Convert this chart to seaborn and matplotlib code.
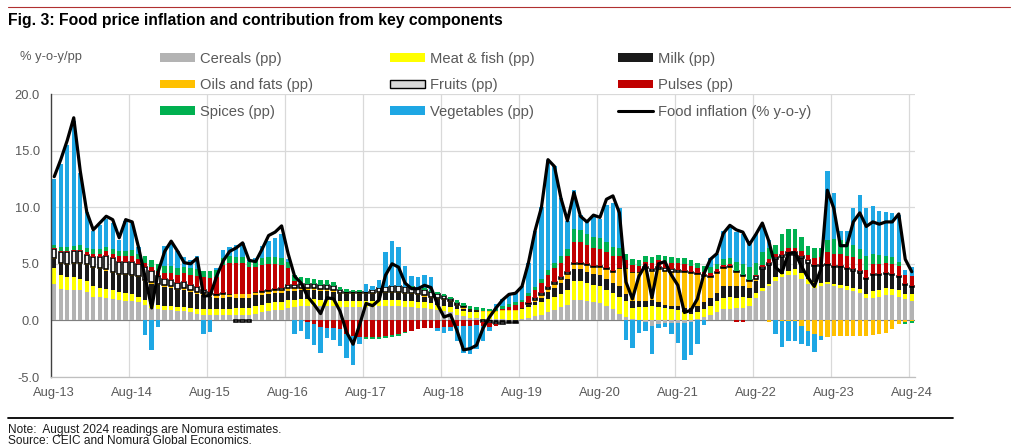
import numpy as np
import pandas as pd
import matplotlib
matplotlib.use("Agg")
import matplotlib.pyplot as plt
import seaborn as sns
from matplotlib.patches import Patch
from matplotlib.lines import Line2D

sns.set_style("white")
plt.rcParams['font.family'] = ['Liberation Sans', 'DejaVu Sans']

# ---------------- data (Aug-13 ... Aug-24, monthly) ----------------
months = pd.date_range('2013-08-01', '2024-08-01', freq='MS')
tick_labels = ['Aug-13', 'Aug-14', 'Aug-15', 'Aug-16', 'Aug-17', 'Aug-18',
               'Aug-19', 'Aug-20', 'Aug-21', 'Aug-22', 'Aug-23', 'Aug-24']

cereals = [3.2, 2.8, 2.7, 2.7, 2.7, 2.5, 2.1, 2.1, 2.0, 1.9, 1.8, 1.7,
           1.7, 1.6, 1.4, 1.1, 1.0, 0.9, 0.9, 0.8, 0.8, 0.7, 0.6, 0.5,
           0.5, 0.5, 0.5, 0.5, 0.5, 0.5, 0.5, 0.6, 0.7, 0.8, 0.9, 0.9,
           1.1, 1.2, 1.3, 1.3, 1.3, 1.3, 1.3, 1.3, 1.2, 1.2, 1.2, 1.2,
           1.2, 1.2, 1.3, 1.3, 1.3, 1.3, 1.2, 1.2, 1.1, 1.1, 1.0, 0.9,
           0.8, 0.7, 0.5, 0.35, 0.25, 0.2, 0.15, 0.1, 0.1, 0.1, 0.05, 0.05,
           0.1, 0.2, 0.35, 0.5, 0.7, 0.9, 1.2, 1.4, 1.8, 1.8, 1.7, 1.6,
           1.5, 1.3, 1.0, 0.6, 0.3, 0.1, 0.0, -0.1, -0.5, -0.3, -0.2, -0.2,
           -0.2, -0.2, -0.1, 0.1, 0.3, 0.5, 0.7, 1.0, 1.05, 1.1, 1.1, 1.25,
           2.0, 2.6, 3.0, 3.5, 3.8, 4.0, 4.0, 3.7, 3.2, 2.9, 3.0, 3.2,
           3.0, 2.9, 2.7, 2.6, 2.4, 2.0, 2.0, 2.1, 2.2, 2.2, 2.1, 1.9, 1.7]

meat_fish = [1.4, 1.2, 1.1, 1.1, 1.0, 1.0, 0.9, 0.8, 0.8, 0.8, 0.7, 0.7,
             0.6, 0.5, 0.4, 0.35, 0.35, 0.35, 0.35, 0.35, 0.35, 0.4, 0.45, 0.5,
             0.5, 0.5, 0.5, 0.55, 0.6, 0.6, 0.6, 0.7, 0.7, 0.7, 0.7, 0.7,
             0.7, 0.6, 0.6, 0.6, 0.6, 0.5, 0.5, 0.5, 0.5, 0.5, 0.5, 0.5,
             0.5, 0.5, 0.5, 0.5, 0.5, 0.5, 0.5, 0.5, 0.5, 0.5, 0.5, 0.5,
             0.5, 0.5, 0.5, 0.5, 0.5, 0.5, 0.55, 0.6, 0.6, 0.7, 0.75, 0.8,
             0.9, 1.0, 1.0, 1.1, 1.2, 1.2, 1.1, 1.3, 1.7, 1.7, 1.6, 1.5,
             1.5, 1.4, 1.4, 1.5, 1.4, 1.0, 1.2, 1.2, 1.3, 1.2, 1.1, 1.0,
             0.9, 0.7, 0.6, 0.6, 0.7, 0.8, 1.0, 1.0, 1.0, 0.9, 0.95, 0.75,
             0.4, 0.3, 0.2, 0.3, 0.3, 0.4, 0.5, 0.5, 0.5, 0.5, 0.3, 0.2,
             0.2, 0.2, 0.3, 0.3, 0.4, 0.35, 0.6, 0.6, 0.7, 0.6, 0.6, 0.4, 0.6]

milk = [0.8, 1.0, 1.1, 1.2, 1.3, 1.4, 1.6, 1.6, 1.6, 1.5, 1.5, 1.6,
        1.6, 1.7, 1.7, 1.8, 1.8, 1.7, 1.6, 1.5, 1.5, 1.4, 1.3, 1.2,
        1.1, 1.0, 1.0, 1.0, 0.9, 0.9, 0.9, 0.9, 0.8, 0.8, 0.8, 0.8,
        0.8, 0.8, 0.8, 0.8, 0.8, 0.8, 0.8, 0.7, 0.6, 0.6, 0.6, 0.6,
        0.6, 0.6, 0.6, 0.6, 0.6, 0.6, 0.6, 0.6, 0.6, 0.5, 0.5, 0.5,
        0.5, 0.4, 0.3, 0.2, 0.15, 0.1, 0.05, -0.05, -0.1, -0.15, -0.15, -0.1,
        0.0, 0.15, 0.3, 0.4, 0.6, 0.8, 1.0, 1.0, 1.0, 1.0, 1.0, 1.0,
        1.0, 1.0, 0.9, 0.9, 0.6, 0.6, 0.5, 0.5, 0.5, 0.4, 0.3, 0.3,
        0.35, 0.4, 0.5, 0.6, 0.6, 0.7, 0.7, 1.0, 0.95, 1.0, 0.95, 0.9,
        1.1, 1.6, 1.7, 1.6, 1.5, 1.4, 1.3, 1.3, 1.4, 1.4, 1.5, 1.5,
        1.5, 1.6, 1.5, 1.5, 1.4, 1.3, 1.4, 1.3, 1.2, 1.2, 1.1, 0.8, 0.65]

oils = [0.1, 0.1, 0.1, 0.1, 0.1, 0.1, 0.1, 0.1, 0.1, 0.1, 0.1, 0.1,
        0.1, 0.1, 0.1, 0.1, 0.1, 0.15, 0.15, 0.15, 0.2, 0.2, 0.2, 0.2,
        0.25, 0.25, 0.3, 0.3, 0.3, 0.3, 0.3, 0.3, 0.3, 0.3, 0.3, 0.3,
        0.3, 0.25, 0.2, 0.2, 0.2, 0.2, 0.2, 0.2, 0.15, 0.15, 0.15, 0.15,
        0.15, 0.15, 0.15, 0.15, 0.15, 0.15, 0.15, 0.15, 0.1, 0.1, 0.1, 0.1,
        0.1, 0.1, 0.1, 0.1, 0.1, 0.1, 0.1, 0.1, 0.1, 0.1, 0.1, 0.1,
        0.1, 0.1, 0.15, 0.2, 0.25, 0.3, 0.35, 0.4, 0.45, 0.5, 0.55, 0.6,
        0.7, 0.8, 1.0, 1.6, 2.3, 2.6, 2.6, 2.9, 2.6, 2.9, 3.0, 3.0,
        3.0, 3.2, 3.1, 2.8, 2.3, 1.8, 1.8, 1.6, 1.7, 1.3, 0.9, 0.6,
        0.2, 0.0, -0.1, 0.0, -0.05, -0.05, -0.05, -0.5, -0.9, -1.2, -1.4, -1.5,
        -1.4, -1.35, -1.35, -1.35, -1.35, -1.35, -1.3, -1.2, -1.1, -0.8, -0.3, -0.1, -0.05]

fruits = [0.8, 0.9, 1.0, 1.0, 1.0, 0.8, 0.9, 1.0, 1.2, 1.2, 1.1, 1.1,
          1.2, 1.1, 1.1, 1.0, 0.7, 0.6, 0.6, 0.5, 0.5, 0.4, 0.4, 0.3,
          0.2, 0.1, 0.1, 0.0, -0.1, -0.1, -0.1, 0.0, 0.1, 0.1, 0.1, 0.2,
          0.2, 0.3, 0.3, 0.3, 0.3, 0.3, 0.3, 0.3, 0.2, 0.1, 0.1, 0.1,
          0.1, 0.2, 0.3, 0.4, 0.5, 0.5, 0.5, 0.5, 0.5, 0.5, 0.4, 0.3,
          0.25, 0.2, 0.15, 0.1, 0.05, 0.0, -0.1, -0.2, -0.2, -0.2, -0.1, -0.1,
          0.0, 0.1, 0.15, 0.2, 0.2, 0.2, 0.15, 0.15, 0.15, 0.1, 0.1, 0.1,
          0.1, 0.1, 0.1, 0.0, 0.0, 0.0, 0.0, 0.1, 0.1, 0.2, 0.2, 0.2,
          0.2, 0.1, 0.1, 0.1, 0.1, 0.1, 0.1, 0.1, 0.1, 0.1, 0.1, 0.1,
          0.2, 0.2, 0.2, 0.2, 0.2, 0.2, 0.2, 0.2, 0.2, 0.1, 0.1, 0.1,
          0.1, 0.1, 0.1, 0.1, 0.2, 0.1, 0.1, 0.1, 0.1, 0.1, 0.1, 0.1, 0.1]

pulses = [0.1, 0.1, 0.1, 0.1, 0.15, 0.2, 0.3, 0.3, 0.4, 0.4, 0.5, 0.5,
          0.5, 0.4, 0.4, 0.4, 0.4, 0.5, 0.6, 0.7, 0.8, 0.9, 1.0, 1.1,
          1.2, 1.5, 2.5, 2.7, 2.8, 2.8, 2.4, 2.2, 2.3, 2.3, 2.2, 2.0,
          1.5, 0.3, 0.05, -0.1, -0.35, -0.6, -0.65, -0.7, -0.8, -1.2, -1.4, -1.5,
          -1.5, -1.5, -1.45, -1.4, -1.3, -1.2, -1.0, -0.9, -0.8, -0.7, -0.7, -0.65,
          -0.6, -0.55, -0.5, -0.5, -0.5, -0.45, -0.4, -0.3, -0.2, 0.1, 0.3, 0.4,
          0.5, 0.6, 0.7, 0.9, 1.1, 1.2, 1.3, 1.4, 1.8, 1.8, 1.7, 1.6,
          1.5, 1.4, 1.3, 1.1, 0.7, 0.6, 0.5, 0.5, 0.6, 0.6, 0.6, 0.6,
          0.6, 0.6, 0.5, 0.4, 0.3, 0.3, 0.2, 0.2, 0.2, -0.1, -0.1, 0.0,
          0.1, 0.2, 0.3, 0.3, 0.3, 0.4, 0.4, 0.4, 0.5, 0.6, 0.7, 1.0,
          1.1, 1.1, 1.1, 1.1, 1.0, 0.7, 0.9, 0.9, 0.9, 0.9, 0.9, 0.85, 0.9]

spices = [0.3, 0.4, 0.4, 0.4, 0.4, 0.4, 0.4, 0.4, 0.4, 0.4, 0.4, 0.4,
          0.5, 0.5, 0.6, 0.6, 0.6, 0.6, 0.6, 0.6, 0.6, 0.6, 0.6, 0.6,
          0.6, 0.6, 0.6, 0.6, 0.5, 0.5, 0.5, 0.6, 0.6, 0.6, 0.6, 0.6,
          0.6, 0.6, 0.55, 0.55, 0.5, 0.5, 0.5, 0.4, 0.3, 0.2, 0.15, 0.1,
          -0.15, -0.15, -0.15, -0.15, -0.2, -0.15, -0.1, 0.05, 0.1, 0.15, 0.15, 0.2,
          0.2, 0.2, 0.25, 0.25, 0.25, 0.25, 0.25, 0.25, 0.25, 0.25, 0.25, 0.25,
          0.2, 0.25, 0.3, 0.35, 0.4, 0.5, 0.6, 0.7, 1.2, 1.1, 1.0, 1.0,
          1.0, 0.9, 0.8, 0.7, 0.6, 0.5, 0.5, 0.5, 0.5, 0.5, 0.5, 0.5,
          0.5, 0.5, 0.5, 0.5, 0.5, 0.5, 0.5, 0.5, 0.5, 0.8, 1.0, 1.1,
          1.1, 1.1, 1.0, 0.8, 1.5, 1.7, 1.7, 1.3, 0.75, 0.9, 0.8, 1.1,
          1.3, 1.2, 1.2, 1.1, 0.9, 1.2, 0.9, 0.75, 0.6, 0.6, 0.4, -0.2, -0.2]

vegetables = [5.8, 7.3, 9.0, 11.0, 6.4, 3.2, 1.6, 2.1, 2.5, 2.3, 1.0, 2.7,
              2.4, 0.6, -1.3, -2.6, -0.6, 1.8, 2.0, 1.5, 0.85, 0.7, 1.15, -1.2,
              -1.0, 0.2, 0.7, 0.85, 1.1, 1.2, 0.1, 0.2, 1.1, 1.4, 1.7, 2.1,
              0.2, -1.2, -0.95, -1.5, -1.85, -2.25, -0.9, -1.05, -1.5, -2.1, -2.5, -0.6,
              0.65, 0.35, 0.75, 3.05, 3.95, 3.45, 1.85, 0.9, 0.9, 1.2, 1.15, -0.3,
              -0.55, -0.35, -1.3, -2.35, -2.5, -2.1, -1.3, -0.4, 0.4, 0.6, 0.9, 0.9,
              1.2, 2.7, 4.95, 6.35, 9.75, 8.5, 5.1, 2.4, 3.4, 1.3, 1.25, 1.8,
              1.7, 3.3, 3.9, 3.5, -1.7, -2.4, -1.1, -0.85, -2.5, -0.4, -0.4, -1.0,
              -1.8, -3.3, -3.0, -2.1, -0.4, 0.8, 0.9, 2.5, 2.8, 2.6, 2.6, 2.3,
              2.5, 2.4, 0.7, -1.2, -2.3, -1.8, -1.8, -1.6, -1.4, -1.6, -0.3, 6.1,
              4.05, 0.8, 1.0, 3.2, 4.8, 4.25, 4.2, 3.95, 3.9, 3.9, 4.1, 0.4, 0.75]

food_inflation = [12.7, 14.2, 15.9, 17.9, 13.2, 9.6, 8.0, 8.6, 9.2, 8.9, 7.3, 8.9,
                  8.7, 6.4, 3.8, 1.1, 4.3, 6.1, 7.0, 6.1, 5.1, 5.0, 5.5, 2.15,
                  2.2, 3.9, 5.25, 6.1, 6.4, 6.85, 5.3, 5.2, 6.3, 7.5, 7.8, 8.35,
                  5.9, 3.9, 3.3, 2.1, 1.4, 0.6, 2.0, 1.9, 0.8, -1.05, -2.1, -0.4,
                  1.5, 1.3, 1.8, 4.0, 5.0, 4.7, 3.3, 2.8, 2.8, 3.1, 2.9, 1.4,
                  0.3, 0.5, -0.9, -2.6, -2.5, -2.2, -0.7, 0.3, 1.1, 1.8, 2.3, 2.4,
                  3.0, 5.1, 7.9, 10.0, 14.2, 13.6, 10.8, 8.8, 11.3, 9.2, 8.7, 9.3,
                  9.1, 10.7, 11.0, 9.5, 3.4, 1.9, 3.9, 4.9, 2.0, 5.0, 5.2, 4.0,
                  3.1, 0.7, 0.9, 1.9, 4.1, 5.4, 5.9, 7.7, 8.4, 8.0, 7.8, 6.7,
                  7.6, 8.6, 7.0, 4.7, 4.2, 5.9, 6.0, 4.8, 3.8, 3.0, 4.5, 11.5,
                  9.9, 6.6, 6.6, 8.7, 9.5, 8.3, 8.7, 8.5, 8.7, 8.7, 9.4, 5.4, 4.3]

labels = ["Cereals (pp)", "Meat & fish (pp)", "Milk (pp)", "Oils and fats (pp)",
          "Fruits (pp)", "Pulses (pp)", "Spices (pp)", "Vegetables (pp)"]
line_label = "Food inflation (% y-o-y)"

df = pd.DataFrame({
    "month": months,
    labels[0]: cereals, labels[1]: meat_fish, labels[2]: milk, labels[3]: oils,
    labels[4]: fruits, labels[5]: pulses, labels[6]: spices, labels[7]: vegetables,
    line_label: food_inflation,
})
df["pos"] = np.arange(len(df))

# ---------------- styles ----------------
face = {labels[0]: "#b3b3b3", labels[1]: "#ffff00", labels[2]: "#1a1a1a",
        labels[3]: "#ffc000", labels[4]: "#f2f2f2", labels[5]: "#c00000",
        labels[6]: "#00b050", labels[7]: "#1ea7e4"}
edge = {k: "none" for k in labels}
edge[labels[4]] = "#000000"

fig = plt.figure(figsize=(10.24, 4.48), dpi=100)
ax = fig.add_axes([51 / 1024, 1 - 377 / 448, (915 - 51) / 1024, (377 - 94) / 448])

pos_base = np.zeros(len(df))
neg_base = np.zeros(len(df))
for lab in labels:
    v = df[lab].to_numpy(dtype=float)
    bottom = np.where(v >= 0, pos_base, neg_base)
    ax.bar(df["pos"], v, bottom=bottom, width=0.68, color=face[lab],
           edgecolor=edge[lab], linewidth=1.15 if lab == labels[4] else 0,
           zorder=2)
    pos_base += np.where(v >= 0, v, 0)
    neg_base += np.where(v < 0, v, 0)

sns.lineplot(data=df, x="pos", y=line_label, ax=ax, color="black",
             linewidth=2.3, zorder=5, legend=False)

# axes
ax.set_xlim(-0.5, len(df) - 0.5)
ax.set_ylim(-5, 20)
ax.set_yticks([-5, 0, 5, 10, 15, 20])
ax.set_yticklabels([f"{t:.1f}" for t in [-5, 0, 5, 10, 15, 20]])
ax.set_xticks(np.arange(0, len(df), 12))
ax.set_xticklabels(tick_labels)
ax.set_xticks(np.arange(11.5, len(df), 12), minor=True)
ax.tick_params(axis='both', which='both', length=0, labelsize=9.3,
               labelcolor="#595959")
ax.tick_params(axis='x', pad=7)
ax.tick_params(axis='y', pad=8)
ax.set_xlabel("")
ax.set_ylabel("")
ax.grid(False)
ax.grid(True, axis='y', which='major', color="#d9d9d9", linewidth=0.9, zorder=0)
ax.grid(True, axis='x', which='minor', color="#d9d9d9", linewidth=0.9, zorder=0)
ax.set_axisbelow(True)
ax.axhline(0, color="#7f7f7f", linewidth=0.8, zorder=1.5)
for s in ["top", "right"]:
    ax.spines[s].set_visible(False)
ax.spines["left"].set_color("#404040")
ax.spines["left"].set_linewidth(1.0)
ax.spines["bottom"].set_color("#bfbfbf")
ax.spines["bottom"].set_linewidth(0.9)

# legend: three columns
def patch(lab):
    return Patch(facecolor=face[lab] if lab != labels[4] else "#d9d9d9",
                 edgecolor=edge[lab] if lab == labels[4] else "none",
                 linewidth=1.0 if lab == labels[4] else 0, label=lab)

cols = [
    ([patch(labels[0]), patch(labels[3]), patch(labels[6])], 160),
    ([patch(labels[1]), patch(labels[4]), patch(labels[7])], 390),
    ([patch(labels[2]), patch(labels[5]),
      Line2D([0], [0], color="black", linewidth=2.2, label=line_label)], 618),
]
for handles, xpx in cols:
    fig.legend(handles=handles, loc="upper left",
               bbox_to_anchor=(xpx / 1024, 1 - 51.5 / 448),
               frameon=False, borderpad=0, borderaxespad=0,
               handlelength=2.4, handleheight=0.55, handletextpad=0.3,
               labelspacing=0.86, fontsize=10.6, labelcolor="#595959")

# texts and rules
fig.text(8 / 1024, 1 - 21 / 448,
         "Fig. 3: Food price inflation and contribution from key components",
         fontsize=11.3, fontweight="bold", color="black", va="center", ha="left")
fig.text(20 / 1024, 1 - 57 / 448, "% y-o-y/pp", fontsize=9.3, color="#595959",
         va="center", ha="left")
fig.add_artist(Line2D([8 / 1024, 1010 / 1024], [1 - 7.5 / 448, 1 - 7.5 / 448],
                      color="#b03030", linewidth=0.8))
fig.add_artist(Line2D([8 / 1024, 953 / 1024], [1 - 418 / 448, 1 - 418 / 448],
                      color="black", linewidth=1.3))
fig.text(8 / 1024, 1 - 429.5 / 448,
         "Note:  August 2024 readings are Nomura estimates.",
         fontsize=8.6, color="#1a1a1a", va="center", ha="left")
fig.text(8 / 1024, 1 - 447 / 448,
         "Source: CEIC and Nomura Global Economics.",
         fontsize=8.6, color="#1a1a1a", va="bottom", ha="left")

fig.savefig("out.png", dpi=100)
